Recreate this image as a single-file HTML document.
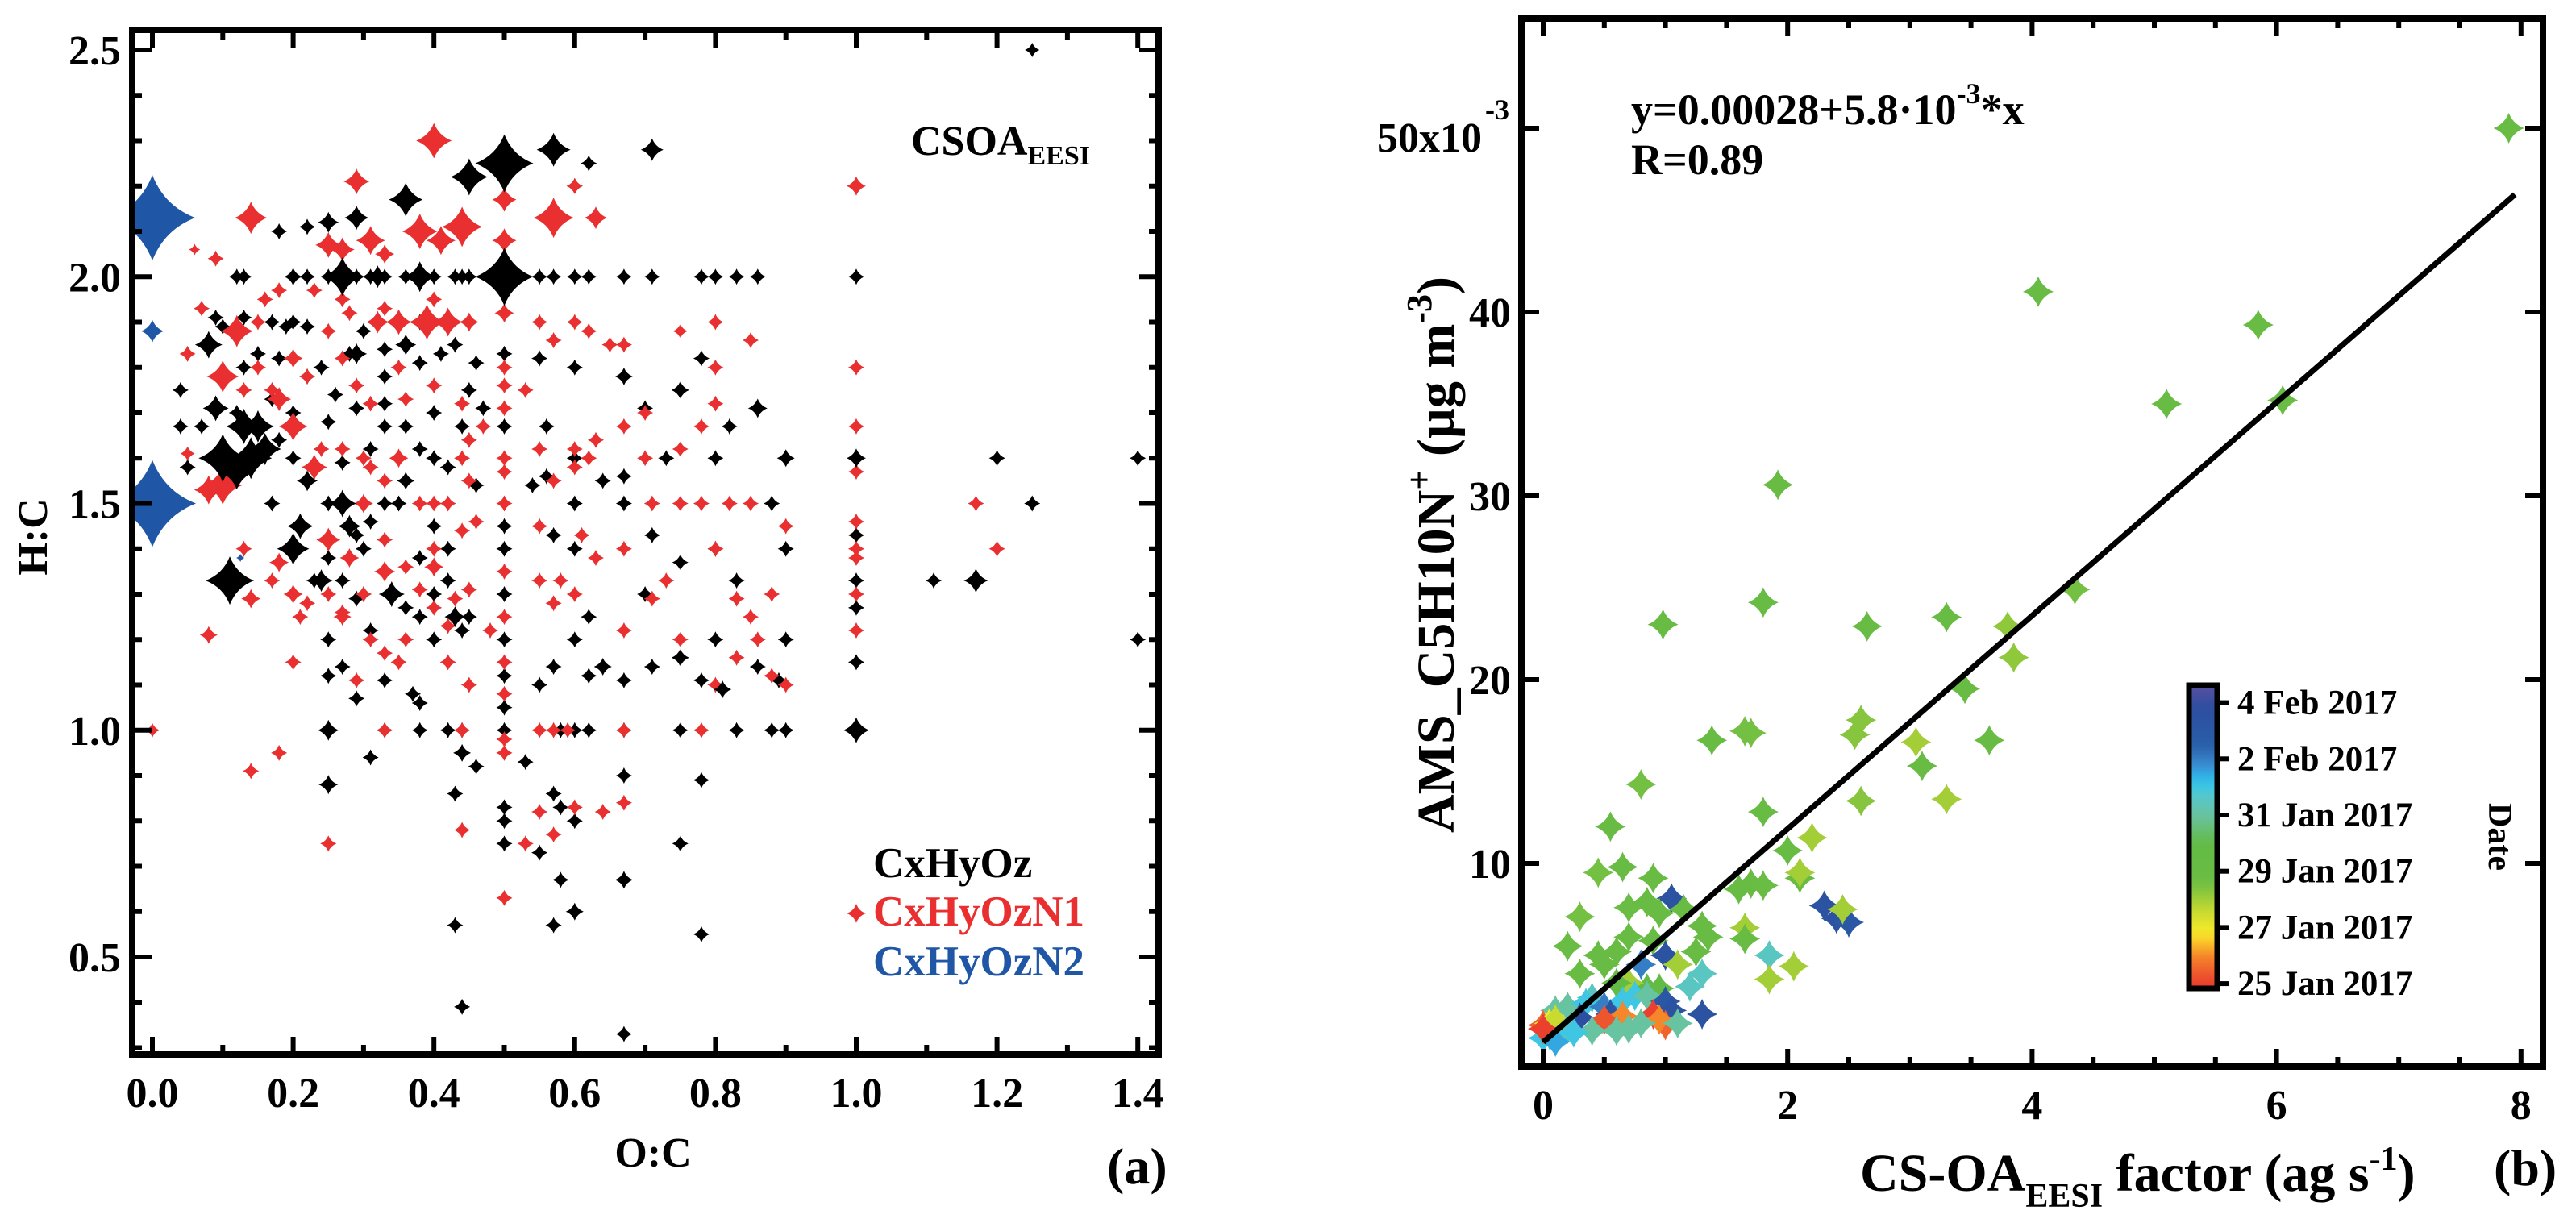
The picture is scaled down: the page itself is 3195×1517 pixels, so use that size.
<!DOCTYPE html>
<html><head><meta charset="utf-8"><style>
html,body{margin:0;padding:0;background:#fff}
svg{display:block;font-family:"Liberation Serif",serif;font-weight:bold}
</style></head><body>
<svg id="fig" width="3195" height="1517" viewBox="0 0 3195 1517" xmlns="http://www.w3.org/2000/svg">
<g id="pa"></g>
<g id="pb"></g>
</svg>
<script>
// ---------- Panel (a) data: [O:C, H:C, marker radius px] ----------
const blackBig=[[0.5,2.25,36],[0.5,2.0,36],[0.27,2.0,24],[0.57,2.28,21],[0.45,2.22,23],[0.36,2.17,21],[0.29,2.13,15],[0.25,2.12,13],[0.71,2.28,14],[1.25,2.5,9],[0.11,1.33,30],[1.17,1.33,15],[1.0,1.0,16],[0.1,1.6,30],[0.14,1.6,26],[0.13,1.67,22],[0.09,1.71,16],[0.08,1.85,17],[0.2,1.4,20],[0.21,1.45,16],[0.27,1.5,17],[0.15,1.67,20],[0.29,1.83,13],[0.36,1.85,13],[0.12,1.57,22],[0.16,1.62,20],[0.38,2.0,19],[0.32,2.0,14],[0.2,2.0,11],[1.0,2.0,10],[0.36,1.55,11],[0.43,1.25,13],[0.25,1.0,13],[0.25,0.88,12],[0.67,0.67,11],[0.6,0.6,11],[0.44,0.95,11],[0.86,1.71,12],[0.67,1.78,11],[0.9,1.6,11],[1.0,1.6,12],[0.64,1.14,11],[0.81,1.09,11],[0.75,1.75,11],[0.75,1.16,11],[0.34,1.3,16],[0.28,1.45,14],[0.24,1.33,14],[0.22,1.55,13]];
const blackSmall=[[0.12,2.0],[0.13,2.0],[0.22,2.0],[0.25,2.0],[0.29,2.0],[0.31,2.0],[0.33,2.0],[0.36,2.0],[0.4,2.0],[0.43,2.0],[0.44,2.0],[0.45,2.0],[0.55,2.0],[0.57,2.0],[0.6,2.0],[0.62,2.0],[0.67,2.0],[0.71,2.0],[0.78,2.0],[0.8,2.0],[0.83,2.0],[0.86,2.0],[0.38,1.0],[0.42,1.0],[0.44,1.0],[0.5,1.0],[0.58,1.0],[0.6,1.0],[0.62,1.0],[0.67,1.0],[0.75,1.0],[0.83,1.0],[0.88,1.0],[0.9,1.0],[0.62,2.25],[0.6,2.2],[0.22,2.11],[0.18,2.1],[0.07,1.67],[0.04,1.67],[0.04,1.75],[0.05,1.58],[0.09,1.91],[0.1,1.89],[0.13,1.8],[0.15,1.83],[0.18,1.82],[0.17,1.9],[0.19,1.89],[0.2,1.9],[0.22,1.89],[0.24,1.8],[0.26,1.74],[0.28,1.83],[0.3,1.88],[0.33,1.84],[0.38,1.81],[0.41,1.83],[0.43,1.85],[0.46,1.81],[0.5,1.83],[0.55,1.82],[0.6,1.8],[0.7,1.71],[0.78,1.82],[0.82,1.67],[0.8,1.6],[1.2,1.6],[1.4,1.6],[1.25,1.5],[1.11,1.33],[1.4,1.2],[0.88,1.5],[0.83,1.33],[0.9,1.4],[0.9,1.2],[0.89,1.11],[0.8,1.2],[0.78,1.11],[0.71,1.14],[0.67,1.11],[0.62,1.12],[0.6,1.2],[0.57,1.14],[0.55,1.1],[0.5,1.05],[0.5,1.12],[0.5,1.2],[0.5,1.3],[0.5,1.4],[0.5,1.45],[0.45,1.25],[0.4,1.2],[0.38,1.06],[0.37,1.08],[0.33,1.11],[0.31,1.22],[0.29,1.07],[0.27,1.14],[0.25,1.2],[0.25,1.12],[0.33,1.0],[0.31,0.94],[0.46,0.92],[0.43,0.86],[0.5,0.83],[0.5,0.8],[0.5,0.75],[0.53,0.93],[0.55,0.73],[0.57,0.86],[0.58,0.83],[0.6,0.8],[0.57,0.57],[0.58,0.67],[0.67,0.9],[0.75,0.75],[0.78,0.89],[0.78,0.55],[0.43,0.57],[0.44,0.39],[0.67,0.33],[0.6,1.4],[0.67,1.5],[0.67,1.56],[0.71,1.43],[0.6,1.5],[0.54,1.54],[0.57,1.43],[0.56,1.56],[0.6,1.6],[0.56,1.67],[0.5,1.67],[0.47,1.71],[0.44,1.67],[0.42,1.58],[0.4,1.6],[0.38,1.62],[0.33,1.67],[0.33,1.5],[0.31,1.46],[0.3,1.4],[0.29,1.43],[0.25,1.5],[0.2,1.6],[0.18,1.64],[0.17,1.5],[0.23,1.33],[0.25,1.38],[0.27,1.33],[0.29,1.29],[0.3,1.3],[0.36,1.27],[0.38,1.25],[0.4,1.3],[0.42,1.33],[0.44,1.22],[0.46,1.54],[0.62,1.25],[0.7,1.3],[0.75,1.37],[0.8,1.4],[0.86,1.14],[1.0,1.15],[1.0,1.27],[1.0,1.33],[1.0,1.43],[0.25,1.68],[0.29,1.71],[0.31,1.62],[0.27,1.59],[0.13,1.91],[0.12,1.7],[0.22,1.78],[0.33,1.78],[0.45,1.75],[0.4,1.7],[0.38,1.9],[0.35,1.5],[0.64,1.55],[0.73,1.6],[0.33,1.72],[0.36,1.67],[0.4,1.45],[0.42,1.4],[0.38,1.38],[0.2,1.7],[0.17,1.73]];
const redBig=[[0.4,2.3,22],[0.29,2.21,16],[0.14,2.13,20],[0.44,2.11,25],[0.57,2.13,25],[0.5,2.17,15],[0.5,2.08,15],[0.38,2.1,22],[0.41,2.08,18],[0.31,2.08,18],[0.25,2.07,16],[0.33,2.05,12],[0.27,2.06,15],[0.63,2.13,14],[0.6,2.2,10],[1.0,2.2,12],[0.39,1.9,22],[0.42,1.9,18],[0.35,1.9,16],[0.32,1.9,14],[0.45,1.9,12],[0.5,1.92,12],[0.12,1.88,20],[0.1,1.78,20],[0.1,1.54,24],[0.08,1.53,18],[0.14,1.29,12],[0.08,1.21,11],[0.2,1.67,18],[0.23,1.58,16],[0.25,1.42,15],[0.18,1.37,12],[0.28,1.38,12],[0.14,1.6,15],[0.18,1.73,15],[0.35,1.6,12],[0.3,1.5,12],[0.05,1.61,9],[0.44,0.78,10],[0.67,1.85,10],[0.75,1.88,9],[0.62,1.88,10],[0.57,1.86,10],[0.55,1.9,10],[0.4,1.95,10],[0.2,1.82,12],[0.15,1.9,10],[0.09,2.04,10],[0.06,2.06,7],[0.0,1.0,9],[0.2,1.3,12],[0.33,1.35,13],[0.4,1.36,12],[0.27,1.25,11]];
const redSmall=[[0.05,1.83],[0.07,1.93],[0.16,1.95],[0.18,1.97],[0.23,1.97],[0.27,1.95],[0.28,1.92],[0.33,1.93],[0.6,1.9],[0.65,1.85],[0.8,1.9],[0.85,1.86],[0.8,1.8],[1.0,1.8],[1.0,1.67],[1.0,1.57],[1.0,1.46],[1.0,1.4],[1.0,1.38],[1.0,1.3],[1.0,1.22],[1.2,1.4],[1.17,1.5],[0.9,1.1],[0.88,1.12],[0.86,1.2],[0.83,1.29],[0.8,1.4],[0.85,1.5],[0.82,1.5],[0.78,1.5],[0.75,1.5],[0.71,1.5],[0.75,1.62],[0.78,1.67],[0.8,1.72],[0.67,1.67],[0.7,1.6],[0.67,1.4],[0.71,1.29],[0.67,1.22],[0.63,1.38],[0.6,1.3],[0.58,1.33],[0.57,1.28],[0.55,1.33],[0.55,1.45],[0.5,1.5],[0.5,1.57],[0.5,1.6],[0.5,1.35],[0.5,1.25],[0.5,1.15],[0.5,1.08],[0.5,0.98],[0.5,0.95],[0.5,0.63],[0.53,0.75],[0.55,0.82],[0.57,0.77],[0.6,0.83],[0.64,0.82],[0.67,0.84],[0.67,1.0],[0.55,1.0],[0.57,1.0],[0.59,1.0],[0.44,1.0],[0.33,1.0],[0.25,0.75],[0.14,0.91],[0.18,0.95],[0.2,1.15],[0.29,1.11],[0.33,1.17],[0.4,1.27],[0.42,1.23],[0.43,1.29],[0.45,1.31],[0.38,1.31],[0.36,1.36],[0.33,1.42],[0.4,1.4],[0.44,1.44],[0.46,1.46],[0.4,1.5],[0.42,1.5],[0.44,1.6],[0.45,1.64],[0.47,1.67],[0.5,1.71],[0.5,1.76],[0.5,1.8],[0.53,1.75],[0.44,1.72],[0.4,1.76],[0.36,1.73],[0.31,1.72],[0.29,1.76],[0.27,1.82],[0.25,1.88],[0.22,1.78],[0.17,1.75],[0.15,1.8],[0.13,1.75],[0.24,1.62],[0.27,1.62],[0.31,1.58],[0.33,1.55],[0.38,1.5],[0.55,1.62],[0.6,1.62],[0.63,1.64],[0.57,1.55],[0.61,1.43],[0.73,1.33],[0.75,1.2],[0.78,1.0],[0.8,1.1],[0.83,1.16],[0.35,1.15],[0.31,1.2],[0.27,1.26],[0.25,1.3],[0.22,1.28],[0.21,1.25],[0.13,1.4],[0.17,1.33],[0.3,1.3],[0.6,1.58],[0.62,1.6],[0.7,1.7],[0.85,1.25],[0.9,1.45],[0.88,1.3],[0.45,1.1],[0.48,1.22],[0.42,1.15],[0.36,1.2],[0.3,1.6],[0.35,1.8],[0.45,1.55]];
const blueSeries=[[0.0,2.13,53],[0.0,1.88,14],[0.0,1.5,54],[0.125,1.38,5]];
const xTicksA=[0.0,0.2,0.4,0.6,0.8,1.0,1.2,1.4];
const yTicksA=[0.5,1.0,1.5,2.0,2.5];

// ---------- Panel (b) data ----------
const bx=[7.9,4.05,5.85,5.1,6.05,1.92,1.8,0.98,2.65,3.3,4.35,3.8,3.85,3.45,3.65,3.05,3.1,3.3,2.6,2.55,2.6,1.65,1.7,1.38,0.8,1.8,0.55,2.0,2.2,2.1,2.1,1.6,1.7,1.8,0.45,0.65,0.9,0.7,0.85,0.3,1.05,0.95,1.15,1.3,1.35,0.2,0.45,0.6,0.7,0.9,1.0,1.25,0.3,0.5,0.8,1.3,1.1,2.3,2.4,2.5,2.45,1.65,1.65,1.85,2.05,1.85,1.2,0.95,0.85,0.7,0.6,0.4,0.2,0.1,0.35,0.5,0.65,0.75,0.85,1.0,1.05,1.3,0.95,0.3,0.55,0.65,0.5,0.7,0.6,0.4,0.15,0.05,0.0,0.05,0.1,0.2,0.0,0.9,1.0,0.95,1.1,0.8,0.1,0.25,0.0];
const by=[50,41.1,39.3,35,35.2,30.6,24.2,23,22.9,23.4,24.9,22.9,21.2,19.5,16.7,16.6,15.3,13.5,17.8,17,13.4,17.2,17.1,16.7,14.3,12.8,12,10.7,11.4,9.2,9.5,8.6,8.9,8.8,9.5,9.8,9.2,7.6,7.9,7.1,8.1,7.3,7.5,6.6,6,5.5,5.0,5.2,6,5.8,5.0,5.2,4.0,4.5,4.5,4.0,4.5,7.7,7.0,6.8,7.5,6.5,5.9,5.0,4.4,3.7,3.3,3.2,3.2,3.5,3.5,2.7,2.2,2.0,2.4,2.2,2.5,2.8,2.8,2.5,2.0,1.8,1.6,1.6,1.8,1.7,1.5,1.0,0.9,0.9,0.8,0.7,1.2,1.3,1.5,1.0,0.5,1.8,1.2,1.5,1.3,1.3,0.3,0.8,1.0];
const bDate=[4,4,4,4,3.8,4,4,4,4,4,3.5,3.2,3.2,4,4,3,4,3,3.3,3.3,3.3,3.5,3.5,4,3.5,4,4,4,3,4,3,4,4,3.8,3.5,4,4,3.8,4,3.5,9.5,4,4,4,4,3.8,4,4,4,4,9.5,4,4,4,8,6.5,3,9.5,9.5,9,3,3,4,6.5,3,3,6.5,5,5,3,5,6.5,6,6,7,8,7,7,6,9,9.5,9.5,9.5,9.8,9.5,1,0.3,6,6,6,7,7,0.5,2,2.5,6.5,7,0,0.5,1,6,6,7.5,7,0];
const fitA=0.28, fitB=5.8;
const xTicksB=[0,2,4,6,8];
const yTicksB=[10,20,30,40];
const cbLabels=["25 Jan 2017","27 Jan 2017","29 Jan 2017","31 Jan 2017","2 Feb 2017","4 Feb 2017"];
const cbValues=[0,2,4,6,8,10];

const NS="http://www.w3.org/2000/svg";
function mk(tag,attrs,parent){const e=document.createElementNS(NS,tag);for(const k in attrs)e.setAttribute(k,attrs[k]);parent.appendChild(e);return e;}
function star(cx,cy,r){const q=r*0.28;
return `M${cx},${cy-r}Q${cx+q},${cy-q} ${cx+r},${cy}Q${cx+q},${cy+q} ${cx},${cy+r}Q${cx-q},${cy+q} ${cx-r},${cy}Q${cx-q},${cy-q} ${cx},${cy-r}Z`;}

// ---------- Panel a ----------
const pa=document.getElementById('pa');
const AX=v=>189+v*873, AY=v=>62+(2.5-v)*562.5;
const aL=164,aR=1437,aT=37,aB=1308;
const clipA=mk('clipPath',{id:'ca'},pa);mk('rect',{x:aL,y:aT,width:aR-aL,height:aB-aT},clipA);
const gA=mk('g',{'clip-path':'url(#ca)'},pa);


function plotA(arr,color,name,defR){arr.forEach(p=>{const e=mk('path',{d:star(AX(p[0]),AY(p[1]),p[2]||defR),fill:color},gA);

});}
plotA(blackSmall,'#000','point-cxhyoz',10);
plotA(redSmall,'#e92f2f','point-cxhyozn1',10);
plotA(redBig,'#e92f2f','point-cxhyozn1',10);
plotA(blackBig,'#000','point-cxhyoz',10);
plotA(blueSeries,'#1f56a5','point-cxhyozn2',10);
for(let i=0;i<=14;i++){const v=i/10,x=AX(v),L=(i%2==0)?22:12;
 mk('line',{x1:x,y1:aB,x2:x,y2:aB-L,stroke:'#000','stroke-width':6},pa);
 mk('line',{x1:x,y1:aT,x2:x,y2:aT+L,stroke:'#000','stroke-width':6},pa);}
for(let i=3;i<=25;i++){const v=i/10,y=AY(v),L=(i%5==0)?24:12;
 mk('line',{x1:aL,y1:y,x2:aL+L,y2:y,stroke:'#000','stroke-width':6},pa);
 mk('line',{x1:aR,y1:y,x2:aR-L,y2:y,stroke:'#000','stroke-width':6},pa);}
const frA=mk('rect',{x:aL,y:aT,width:aR-aL,height:aB-aT,fill:'none',stroke:'#000','stroke-width':8},pa);


xTicksA.forEach(v=>{const t=mk('text',{x:AX(v),y:1373,'font-size':52,'text-anchor':'middle'},pa);t.textContent=v.toFixed(1);

});
yTicksA.forEach(v=>{const t=mk('text',{x:150,y:AY(v)+18,'font-size':52,'text-anchor':'end'},pa);t.textContent=v.toFixed(1);

});
</script>
<script>
document.getElementById('pa').insertAdjacentHTML('beforeend',`
<text x="810" y="1447" font-size="52" text-anchor="middle">O:C</text>
<text transform="translate(58,666) rotate(-90)" font-size="52" text-anchor="middle">H:C</text>
<text x="1130" y="192" font-size="52">CSOA<tspan font-size="34" dy="12">EESI</tspan></text>
<text x="1373" y="1468" font-size="64">(a)</text>
<g>
<text x="1083" y="1088" font-size="53" fill="#000">CxHyOz</text>
<path d="M1062,1121Q1065,1130 1074,1133Q1065,1136 1062,1145Q1059,1136 1050,1133Q1059,1130 1062,1121Z" fill="#e92f2f"/>
<text x="1083" y="1148" font-size="53" fill="#e92f2f">CxHyOzN1</text>
<text x="1083" y="1210" font-size="53" fill="#1f56a5">CxHyOzN2</text>
</g>`);
</script>
<script>
(function(){
const pb=document.getElementById('pb');
const BX=v=>1914+v*151.6, BY=v=>159+(50-v)*22.8;
const bL=1887,bR=3154,bT=23,bB=1323;
const stops=[[-0.2,[232,50,46]],[1,[245,134,42]],[1.6,[251,214,42]],[2.0,[238,233,42]],[2.8,[181,211,52]],[3.6,[107,189,68]],[5,[98,187,69]],[5.9,[106,194,154]],[6.8,[82,200,212]],[7.2,[43,195,239]],[7.8,[58,138,208]],[8.5,[42,94,168]],[9.8,[44,78,160]],[10.7,[94,79,160]]];
function cmap(t){if(t<=stops[0][0])return `rgb(${stops[0][1]})`;for(let i=1;i<stops.length;i++){if(t<=stops[i][0]){const a=stops[i-1],b=stops[i],f=(t-a[0])/(b[0]-a[0]);return `rgb(${a[1].map((c,k)=>Math.round(c+(b[1][k]-c)*f)).join(',')})`;}}return `rgb(${stops[stops.length-1][1]})`;}
const clipB=mk('clipPath',{id:'cb'},pb);mk('rect',{x:bL,y:bT,width:bR-bL,height:bB-bT},clipB);
const g=mk('g',{'clip-path':'url(#cb)'},pb);


bx.forEach((x,i)=>{const e=mk('path',{d:star(BX(x),BY(by[i]),19),fill:cmap(bDate[i])},g);

});
const x0=0,x1=7.95;
const ln=mk('line',{x1:BX(x0),y1:BY(fitA+fitB*x0),x2:BX(x1),y2:BY(fitA+fitB*x1),stroke:'#000','stroke-width':7},pb);


for(let i=0;i<=16;i++){const v=i/2,x=BX(v),L=(i%4==0)?22:12;
 mk('line',{x1:x,y1:bB,x2:x,y2:bB-L,stroke:'#000','stroke-width':6},pb);
 mk('line',{x1:x,y1:bT,x2:x,y2:bT+L,stroke:'#000','stroke-width':6},pb);}
[10,20,30,40,50].forEach(v=>{const y=BY(v);
 mk('line',{x1:bL,y1:y,x2:bL+22,y2:y,stroke:'#000','stroke-width':6},pb);
 mk('line',{x1:bR,y1:y,x2:bR-22,y2:y,stroke:'#000','stroke-width':6},pb);});
const fr=mk('rect',{x:bL,y:bT,width:bR-bL,height:bB-bT,fill:'none',stroke:'#000','stroke-width':8},pb);


xTicksB.forEach(v=>{const t=mk('text',{x:BX(v),y:1388,'font-size':52,'text-anchor':'middle'},pb);t.textContent=v;

});
yTicksB.forEach(v=>{const t=mk('text',{x:1874,y:BY(v)+18,'font-size':52,'text-anchor':'end'},pb);t.textContent=v;

});
const defs=mk('defs',{},pb);const lg=mk('linearGradient',{id:'cbg',x1:0,y1:1,x2:0,y2:0},defs);
const cbT=850,cbB=1226,tMin=-0.17,tMax=10.62;
for(let k=0;k<=30;k++){const t=tMin+(tMax-tMin)*k/30;mk('stop',{offset:k/30,'stop-color':cmap(t)},lg);}
const cb=mk('rect',{x:2715,y:cbT,width:35,height:cbB-cbT,fill:'url(#cbg)',stroke:'#000','stroke-width':7},pb);


cbValues.forEach((v,i)=>{const y=cbB-(v-tMin)/(tMax-tMin)*(cbB-cbT);
 mk('line',{x1:2750,y1:y,x2:2764,y2:y,stroke:'#000','stroke-width':6},pb);
 const t=mk('text',{x:2775,y:y+14,'font-size':43},pb);t.textContent=cbLabels[i];
 
 });
})();
</script>
<script>
document.getElementById('pb').insertAdjacentHTML('beforeend',`
<text x="1838" y="188" font-size="52" text-anchor="end">50x10</text>
<text x="1842" y="148" font-size="36">-3</text>
<text x="2023" y="154" font-size="54">y=0.00028+5.8·10<tspan font-size="36" dy="-26">-3</tspan><tspan dy="26">*x</tspan></text>
<text x="2023" y="216" font-size="54">R=0.89</text>
<text transform="translate(1803,688) rotate(-90)" font-size="66" text-anchor="middle">AMS_C5H10N<tspan font-size="44" dy="-28">+</tspan><tspan dy="28"> (µg m</tspan><tspan font-size="44" dy="-28">-3</tspan><tspan dy="28">)</tspan></text>
<text x="2307" y="1477" font-size="66">CS-OA<tspan font-size="42" dy="20">EESI</tspan><tspan dy="-20"> factor (ag s</tspan><tspan font-size="42" dy="-26">-1</tspan><tspan dy="26">)</tspan></text>
<text x="3093" y="1470" font-size="64">(b)</text>
<text transform="translate(3087,1038) rotate(90)" font-size="42" text-anchor="middle">Date</text>`);
</script>
</body></html>
